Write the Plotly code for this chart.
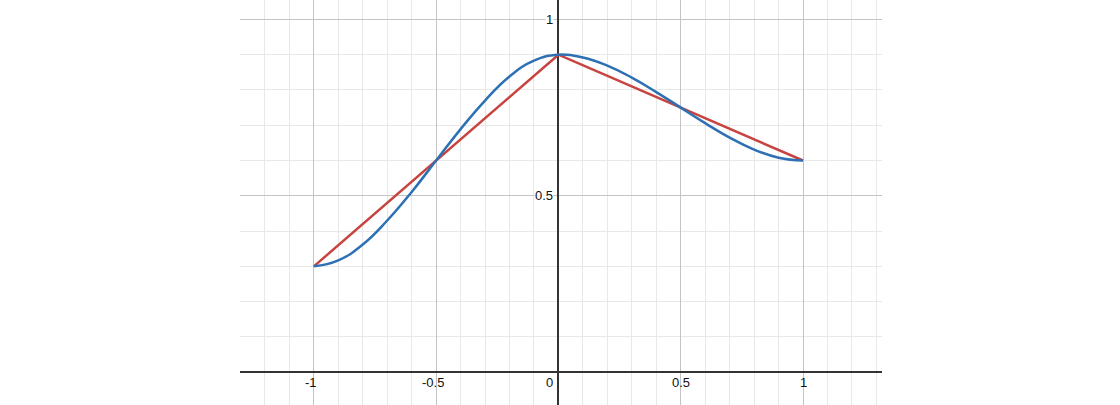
import plotly.graph_objects as go

# smooth curve (blue), every 0.1
curve_x = [-1.0, -0.9, -0.8, -0.7, -0.6, -0.5, -0.4, -0.3, -0.2, -0.1, 0.0,
           0.1, 0.2, 0.3, 0.4, 0.5, 0.6, 0.7, 0.8, 0.9, 1.0]
curve_y = [0.300, 0.317, 0.362, 0.430, 0.511, 0.600, 0.689, 0.770, 0.838, 0.883, 0.900,
           0.892, 0.869, 0.835, 0.794, 0.750, 0.706, 0.665, 0.631, 0.608, 0.600]

# piecewise linear (red)
poly_x = [-1.0, 0.0, 1.0]
poly_y = [0.3, 0.9, 0.6]

x_ticks = [-1, -0.5, 0, 0.5, 1]
x_tick_labels = ["-1", "-0.5", "0", "0.5", "1"]
y_ticks = [0.5, 1]
y_tick_labels = ["0.5", "1"]

BLUE = "#2d70b3"
RED = "#c74440"
LABEL = dict(size=13, color="#111111")

fig = go.Figure()
fig.add_trace(go.Scatter(x=poly_x, y=poly_y, mode="lines",
                         line=dict(color=RED, width=2.5)))
fig.add_trace(go.Scatter(x=curve_x, y=curve_y, mode="lines",
                         line=dict(color=BLUE, width=2.5, shape="spline", smoothing=1.3)))

axis_common = dict(
    showgrid=True, gridcolor="#c4c4c4", gridwidth=1.3,
    zeroline=True, zerolinecolor="#333333", zerolinewidth=1.6,
    showticklabels=False, ticks="", showline=False,
)

fig.update_layout(
    width=1120, height=405,
    margin=dict(l=240, r=238, t=0, b=0),
    paper_bgcolor="white", plot_bgcolor="white",
    showlegend=False,
    xaxis=dict(range=[-1.302, 1.323], dtick=0.5, tick0=0,
               minor=dict(dtick=0.1, showgrid=True, gridcolor="#e8e8e8", gridwidth=1),
               **axis_common),
    yaxis=dict(range=[-0.093, 1.055], dtick=0.5, tick0=0,
               minor=dict(dtick=0.1, showgrid=True, gridcolor="#e8e8e8", gridwidth=1),
               **axis_common),
    font=dict(family="Liberation Sans, Arial, sans-serif", size=12, color="#111111"),
)

# axis labels placed next to the axes, like the original
for v, t in zip(x_ticks, x_tick_labels):
    if v == 0:
        fig.add_annotation(x=v, y=0, text=t, showarrow=False, xanchor="right",
                           yanchor="top", xshift=-3, yshift=-1, font=LABEL)
    else:
        fig.add_annotation(x=v, y=0, text=t, showarrow=False, xanchor="center",
                           yanchor="top", xshift=-3 if v < 0 else 0, yshift=-1,
                           font=LABEL)

for v, t in zip(y_ticks, y_tick_labels):
    fig.add_annotation(x=0, y=v, text=t, showarrow=False, xanchor="right",
                       yanchor="middle", xshift=-4,
                       bgcolor="rgba(255,255,255,0.8)", borderpad=0, font=LABEL)

# drop the default page margin so the figure sits at the window's corner
fig.write_html("out.html", config={"displayModeBar": False},
               post_script="document.body.style.margin='0';")
